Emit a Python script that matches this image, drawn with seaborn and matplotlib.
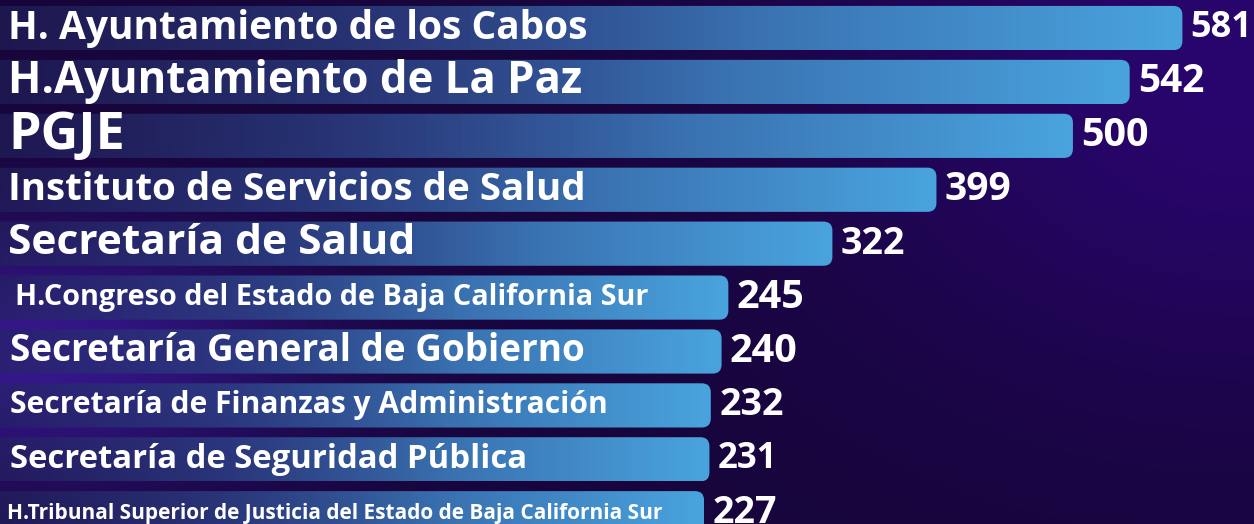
import numpy as np
import pandas as pd
import matplotlib
matplotlib.use("Agg")
import matplotlib.pyplot as plt
import seaborn as sns
from matplotlib.patches import FancyBboxPatch
from matplotlib.colors import LinearSegmentedColormap

dependencias = [
    "H. Ayuntamiento de los Cabos",
    "H.Ayuntamiento de La Paz",
    "PGJE",
    "Instituto de Servicios de Salud",
    "Secretaría de Salud",
    "H.Congreso del Estado de Baja California Sur",
    "Secretaría General de Gobierno",
    "Secretaría de Finanzas y Administración",
    "Secretaría de Seguridad Pública",
    "H.Tribunal Superior de Justicia del Estado de Baja California Sur",
]
casos = [581, 542, 500, 399, 322, 245, 240, 232, 231, 227]

# styling (per-row, the original uses a different size for each label)
label_sizes = [28, 31.5, 37.5, 27.7, 30.6, 20.8, 26.6, 21.6, 23.7, 15]
label_pad_px = [8, 8, 8, 8, 8, 15, 10, 10, 10, 7]
value_sizes = [26, 28, 28.5, 28, 27, 28.5, 28.5, 27, 25, 27]

# the value axis of the original is truncated: bars start from this origin
AXIS_ORIGIN = -300

df = pd.DataFrame({"dependencia": dependencias, "casos": casos})
df["largo"] = df["casos"] - AXIS_ORIGIN

sns.set_theme(style="white")
plt.rcParams["font.family"] = ["Open Sans", "DejaVu Sans"]

fig = plt.figure(figsize=(12.54, 5.24), dpi=100)

# background: dark purple with soft glows
bg = fig.add_axes([0, 0, 1, 1])
bg.axis("off")
yy, xx = np.mgrid[0:1:120j, 0:1:280j]
img = np.ones((120, 280, 3)) * np.array([0.09, 0.02, 0.23])
glow_l = np.exp(-(((xx - 0.02) / 0.22) ** 2 + ((yy - 0.68) / 0.25) ** 2))
glow_r = np.exp(-(((xx - 1.0) / 0.35) ** 2 + ((yy - 0.15) / 0.6) ** 2))
img += glow_l[..., None] * np.array([0.12, 0.07, 0.32])
img += glow_r[..., None] * np.array([0.07, 0.0, 0.2])
bg.imshow(np.clip(img, 0, 1), extent=[0, 1, 0, 1], aspect="auto", interpolation="bilinear")

ax = fig.add_axes([0, 0, 1, 1])
ax.patch.set_alpha(0)
sns.barplot(data=df, x="largo", y="dependencia", orient="h", width=0.82,
            color="#4aa3dc", errorbar=None, ax=ax)

xlim = (6, 934)
ylim = (9.2, -0.52)
ax.set_xlim(*xlim)
ax.set_ylim(*ylim)
ax.set(xlabel="", ylabel="", xticks=[], yticks=[])
sns.despine(ax=ax, left=True, bottom=True)

px_x = ax.transData.transform((1, 0))[0] - ax.transData.transform((0, 0))[0]
px_y = abs(ax.transData.transform((0, 1))[1] - ax.transData.transform((0, 0))[1])
radius = 9 / px_x
aspect = px_x / px_y

cmap = LinearSegmentedColormap.from_list("barra", ["#232660", "#2e4488", "#3b75b4", "#49a4de"])
g = np.linspace(0, 1, 256)
bar_rgba = cmap(g)[None, :, :].copy()
bar_rgba[..., 3] = 0.55 + 0.45 * np.clip(g * 1.6, 0, 1)

for bar in list(ax.patches):
    x0, y0, bw, bh = bar.get_x(), bar.get_y(), bar.get_width(), bar.get_height()
    bar.remove()
    shape = FancyBboxPatch((x0, y0), bw, bh,
                           boxstyle=f"round,pad=0,rounding_size={radius}",
                           mutation_aspect=aspect, facecolor="none", edgecolor="none")
    ax.add_patch(shape)
    im = ax.imshow(bar_rgba, extent=[x0, x0 + bw, y0 + bh, y0], aspect="auto",
                   interpolation="bilinear", zorder=2)
    im.set_clip_path(shape)

for i, row in df.iterrows():
    ax.annotate(row["dependencia"], xy=(0, i), xycoords=("axes fraction", "data"),
                xytext=(label_pad_px[i] * 0.72, 0), textcoords="offset points",
                ha="left", va="center", color="white", fontweight="bold",
                fontsize=label_sizes[i], zorder=3)
    ax.annotate(f"{row['casos']}", xy=(row["largo"], i), xytext=(6, 0),
                textcoords="offset points", ha="left", va="center",
                color="white", fontweight="bold", fontsize=value_sizes[i], zorder=3)

ax.set_xlim(*xlim)
ax.set_ylim(*ylim)

fig.savefig("out.png", dpi=100)
